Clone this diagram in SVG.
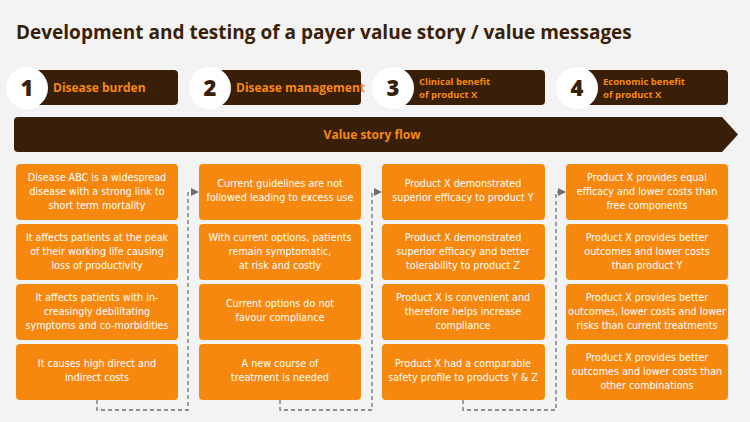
<svg xmlns="http://www.w3.org/2000/svg" width="750" height="422" viewBox="0 0 750 422">
<defs>
<style>
.t{font-family:"Open Sans","DejaVu Sans",sans-serif}
.box{fill:#f7880f}
.bt{font-family:"DejaVu Sans",sans-serif;font-size:9.6px;fill:#fff;text-anchor:middle}
.hd{fill:#3a1f08}
.ht{font-family:"Open Sans",sans-serif;font-weight:bold;fill:#f7880f;font-size:12px}
.hs{font-family:"Open Sans",sans-serif;font-weight:bold;fill:#f7880f;font-size:9.5px}
.num{font-family:"Open Sans",sans-serif;font-weight:800;font-size:22px;fill:#3a1f08;text-anchor:middle}
.c{fill:#fff}
.con{fill:none;stroke:#707070;stroke-width:1.3;stroke-dasharray:4,3}
</style>
<marker id="ar" markerWidth="8" markerHeight="8" refX="7" refY="4" orient="auto" markerUnits="userSpaceOnUse"><path d="M0,0L8,4L0,8z" fill="#707070"/></marker>
</defs>
<rect width="750" height="422" fill="#f3f3f3"/>
<text x="16" y="39" class="t" font-size="19" font-weight="bold" fill="#3a1f08">Development and testing of a payer value story / value messages</text>
<g id="h1"><rect x="30" y="70" width="148" height="35" rx="4" class="hd"/><circle cx="27" cy="88" r="21" class="c"/><text x="27" y="96" class="num">1</text><text x="53" y="92" class="ht">Disease burden</text></g>
<g id="h2"><rect x="213" y="70" width="148" height="35" rx="4" class="hd"/><circle cx="210" cy="88" r="21" class="c"/><text x="210" y="96" class="num">2</text><text x="236" y="92" class="ht">Disease management</text></g>
<g id="h3"><rect x="396" y="70" width="149" height="35" rx="4" class="hd"/><circle cx="393" cy="88" r="21" class="c"/><text x="393" y="96" class="num">3</text><text x="419" y="85" class="hs">Clinical benefit</text><text x="419" y="98" class="hs">of product X</text></g>
<g id="h4"><rect x="580" y="70" width="148" height="35" rx="4" class="hd"/><circle cx="577" cy="88" r="21" class="c"/><text x="577" y="96" class="num">4</text><text x="603" y="85" class="hs">Economic benefit</text><text x="603" y="98" class="hs">of product X</text></g>
<g id="flow"><path d="M18,117H722L738,134.5L722,152H18Q14,152 14,148V121Q14,117 18,117Z" class="hd"/><text x="372" y="139" class="ht" text-anchor="middle">Value story flow</text></g>
<g id="c1">
<g id="b11"><rect x="16" y="164" width="162" height="56" rx="4" class="box"/><text class="bt" x="97" y="181">Disease ABC is a widespread</text><text class="bt" x="97" y="195">disease with a strong link to</text><text class="bt" x="97" y="209">short term mortality</text></g>
<g id="b12"><rect x="16" y="224" width="162" height="56" rx="4" class="box"/><text class="bt" x="97" y="241">It affects patients at the peak</text><text class="bt" x="97" y="255">of their working life causing</text><text class="bt" x="97" y="269">loss of productivity</text></g>
<g id="b13"><rect x="16" y="284" width="162" height="56" rx="4" class="box"/><text class="bt" x="97" y="301">It affects patients with in-</text><text class="bt" x="97" y="315">creasingly debilitating</text><text class="bt" x="97" y="329">symptoms and co-morbidities</text></g>
<g id="b14"><rect x="16" y="344" width="162" height="56" rx="4" class="box"/><text class="bt" x="97" y="367">It causes high direct and</text><text class="bt" x="97" y="381">indirect costs</text></g>
</g>
<g id="c2">
<g id="b21"><rect x="199" y="164" width="162" height="56" rx="4" class="box"/><text class="bt" x="280" y="187">Current guidelines are not</text><text class="bt" x="280" y="201">followed leading to excess use</text></g>
<g id="b22"><rect x="199" y="224" width="162" height="56" rx="4" class="box"/><text class="bt" x="280" y="241">With current options, patients</text><text class="bt" x="280" y="255">remain symptomatic,</text><text class="bt" x="280" y="269">at risk and costly</text></g>
<g id="b23"><rect x="199" y="284" width="162" height="56" rx="4" class="box"/><text class="bt" x="280" y="307">Current options do not</text><text class="bt" x="280" y="321">favour compliance</text></g>
<g id="b24"><rect x="199" y="344" width="162" height="56" rx="4" class="box"/><text class="bt" x="280" y="367">A new course of</text><text class="bt" x="280" y="381">treatment is needed</text></g>
</g>
<g id="c3">
<g id="b31"><rect x="382" y="164" width="163" height="56" rx="4" class="box"/><text class="bt" x="463" y="187">Product X demonstrated</text><text class="bt" x="463" y="201">superior efficacy to product Y</text></g>
<g id="b32"><rect x="382" y="224" width="163" height="56" rx="4" class="box"/><text class="bt" x="463" y="241">Product X demonstrated</text><text class="bt" x="463" y="255">superior efficacy and better</text><text class="bt" x="463" y="269">tolerability to product Z</text></g>
<g id="b33"><rect x="382" y="284" width="163" height="56" rx="4" class="box"/><text class="bt" x="463" y="301">Product X is convenient and</text><text class="bt" x="463" y="315">therefore helps increase</text><text class="bt" x="463" y="329">compliance</text></g>
<g id="b34"><rect x="382" y="344" width="163" height="56" rx="4" class="box"/><text class="bt" x="463" y="367">Product X had a comparable</text><text class="bt" x="463" y="381">safety profile to products Y &amp; Z</text></g>
</g>
<g id="c4">
<g id="b41"><rect x="566" y="164" width="162" height="56" rx="4" class="box"/><text class="bt" x="647" y="181">Product X provides equal</text><text class="bt" x="647" y="195">efficacy and lower costs than</text><text class="bt" x="647" y="209">free components</text></g>
<g id="b42"><rect x="566" y="224" width="162" height="56" rx="4" class="box"/><text class="bt" x="647" y="241">Product X provides better</text><text class="bt" x="647" y="255">outcomes and lower costs</text><text class="bt" x="647" y="269">than product Y</text></g>
<g id="b43"><rect x="566" y="284" width="162" height="56" rx="4" class="box"/><text class="bt" x="647" y="301">Product X provides better</text><text class="bt" x="647" y="315">outcomes, lower costs and lower</text><text class="bt" x="647" y="329">risks than current treatments</text></g>
<g id="b44"><rect x="566" y="344" width="162" height="56" rx="4" class="box"/><text class="bt" x="647" y="361">Product X provides better</text><text class="bt" x="647" y="375">outcomes and lower costs than</text><text class="bt" x="647" y="389">other combinations</text></g>
</g>
<g id="connectors">
<path class="con" marker-end="url(#ar)" d="M97,400V410H188V192H198"/>
<path class="con" marker-end="url(#ar)" d="M280,400V410H372V192H381"/>
<path class="con" marker-end="url(#ar)" d="M463,400V410H556V192H565"/>
</g>
</svg>
